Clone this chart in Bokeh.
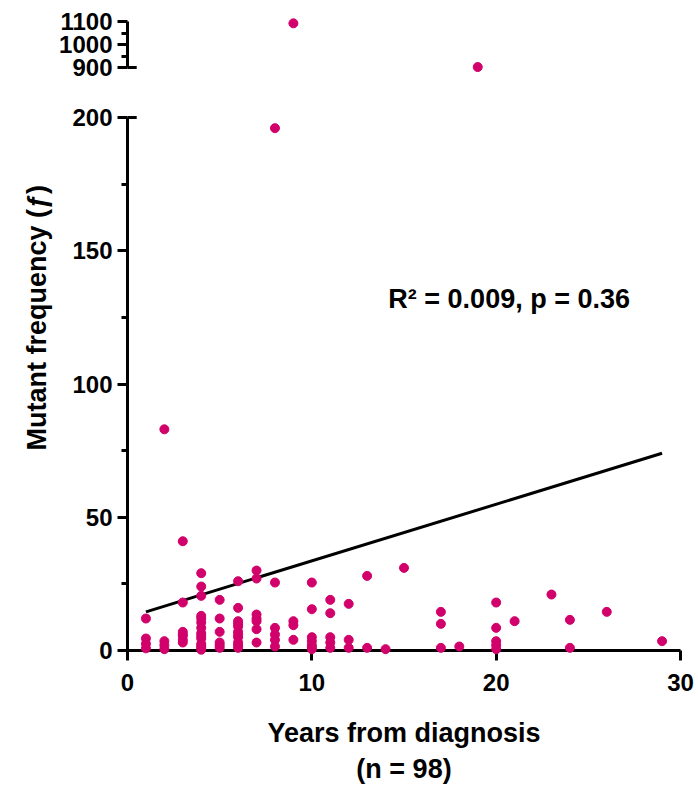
from bokeh.plotting import figure
from bokeh.models import Range1d, FixedTicker, Label, ColumnDataSource, Title
from bokeh.layouts import column
from bokeh.embed import file_html
from bokeh.resources import INLINE

# ---------------- data ----------------
YEARS = (
    [1] * 4 + [2] * 4 + [3] * 7 + [4] * 14 + [5] * 6 + [6] * 11 + [7] * 7 + [8] * 6
    + [9] * 4 + [10] * 7 + [11] * 5 + [12] * 3 + [13] * 2 + [14] + [15] + [17] * 3
    + [18] + [19] + [20] * 5 + [21] + [23] + [24] * 2 + [26] + [29]
)
FREQ = (
    [12, 4.5, 2.5, 0.8]
    + [83, 3.5, 2, 0.5]
    + [41, 18, 7, 5.5, 4, 3, 6]
    + [29, 24, 20.5, 13, 10.5, 8.5, 6.5, 4.5, 2.5, 1, 0.3, 12, 5.5, 1.8]
    + [19, 12, 7, 3, 1, 2]
    + [26, 16, 11, 9, 7, 5, 3, 1, 10, 2, 6]
    + [30, 27, 13.5, 11, 8, 3, 12]
    + [196, 25.5, 8.5, 6, 4, 1.5]
    + [1092, 11, 9.5, 4]
    + [25.5, 15.5, 5, 3.5, 2, 0.5, 1.2]
    + [19, 14, 5, 3, 1]
    + [17.5, 4, 1]
    + [28, 1]
    + [0.5]
    + [31]
    + [14.5, 10, 1]
    + [1.5]
    + [902]
    + [18, 8.5, 3.5, 2, 0.5]
    + [11]
    + [21]
    + [11.5, 1]
    + [14.5]
    + [3.5]
)
FIT_YEARS = [1, 29]
FIT_FREQ = [14.5, 74.0]

X_RANGE = [0, 30]
X_TICKS = [0, 10, 20, 30]
LOW_RANGE = [0, 200]
LOW_TICKS = [0, 50, 100, 150, 200]
LOW_MINOR = [25, 75, 125, 175]
HIGH_RANGE = [900, 1100]
HIGH_TICKS = [900, 1000, 1100]
HIGH_MINOR = [950, 1050]

X_TITLE = "Years from diagnosis\n(n = 98)"
Y_TITLE = "Mutant frequency (ƒ)"
STATS = "R² = 0.009, p = 0.36"

# ---------------- styling ----------------
FONT = "Liberation Sans"
DOT = "#D1006B"
FRAME_W = 553
LEFT = 127
RIGHT = 18

low_src = ColumnDataSource(dict(
    x=[x for x, y in zip(YEARS, FREQ) if LOW_RANGE[0] <= y <= LOW_RANGE[1]],
    y=[y for y in FREQ if LOW_RANGE[0] <= y <= LOW_RANGE[1]],
))
high_src = ColumnDataSource(dict(
    x=[x for x, y in zip(YEARS, FREQ) if HIGH_RANGE[0] <= y <= HIGH_RANGE[1]],
    y=[y for y in FREQ if HIGH_RANGE[0] <= y <= HIGH_RANGE[1]],
))

x_range = Range1d(*X_RANGE)


def style_axis(ax, ticks, minor):
    ax.ticker = FixedTicker(ticks=ticks, minor_ticks=minor)
    ax.axis_line_width = 3
    ax.axis_line_color = "black"
    ax.major_tick_line_width = 3
    ax.minor_tick_line_width = 3
    ax.major_tick_out = 10
    ax.major_tick_in = 0
    ax.minor_tick_out = 6
    ax.minor_tick_in = 0
    ax.major_label_text_font = FONT
    ax.major_label_text_font_style = "bold"
    ax.major_label_text_font_size = "24px"
    ax.major_label_text_color = "black"
    ax.major_label_standoff = 5


def base_fig(y_rng, frame_h, top, bottom, x_loc):
    p = figure(
        x_range=x_range, y_range=Range1d(*y_rng),
        frame_width=FRAME_W, frame_height=frame_h,
        min_border_left=LEFT, min_border_right=RIGHT,
        min_border_top=top, min_border_bottom=bottom,
        x_axis_location=x_loc,
        output_backend="svg", toolbar_location=None,
    )
    p.outline_line_color = None
    p.xgrid.visible = False
    p.ygrid.visible = False
    p.background_fill_color = "white"
    p.border_fill_color = "white"
    return p


# top (broken) segment
p_top = base_fig(HIGH_RANGE, 46, 21, 25, None)
style_axis(p_top.yaxis[0], HIGH_TICKS, HIGH_MINOR)
p_top.scatter("x", "y", source=high_src, size=9, color=DOT, level="overlay")
p_top.segment(x0=X_RANGE[0], y0=HIGH_TICKS[0], x1=X_RANGE[0] + 0.5, y1=HIGH_TICKS[0],
              line_width=3, color="black", level="overlay")

# bottom segment
p_low = base_fig(LOW_RANGE, 533, 25, 137, "below")
style_axis(p_low.yaxis[0], LOW_TICKS, LOW_MINOR)
style_axis(p_low.xaxis[0], X_TICKS, [])
p_low.xaxis[0].major_label_standoff = 13
p_low.xaxis[0].axis_label = X_TITLE
p_low.xaxis[0].axis_label_text_font = FONT
p_low.xaxis[0].axis_label_text_font_style = "bold"
p_low.xaxis[0].axis_label_text_font_size = "27px"
p_low.xaxis[0].axis_label_text_color = "black"
p_low.xaxis[0].axis_label_standoff = 24

p_low.segment(x0=X_RANGE[0], y0=LOW_TICKS[-1], x1=X_RANGE[0] + 0.5, y1=LOW_TICKS[-1],
              line_width=3, color="black", level="overlay")
p_low.line(FIT_YEARS, FIT_FREQ, line_width=3, color="black", level="overlay")
p_low.scatter("x", "y", source=low_src, size=9, color=DOT, level="overlay")

p_low.add_layout(Title(
    text=Y_TITLE, align="left", offset=200, standoff=36,
    text_font=FONT, text_font_style="bold", text_font_size="27px", text_color="black",
), "left")
p_low.add_layout(Label(
    x=14.15, y=132, text=STATS, text_align="left", text_baseline="alphabetic",
    text_font=FONT, text_font_style="bold", text_font_size="27px", text_color="black",
))

layout = column(p_top, p_low, spacing=0)
open("out.html", "w").write(file_html(layout, INLINE))
